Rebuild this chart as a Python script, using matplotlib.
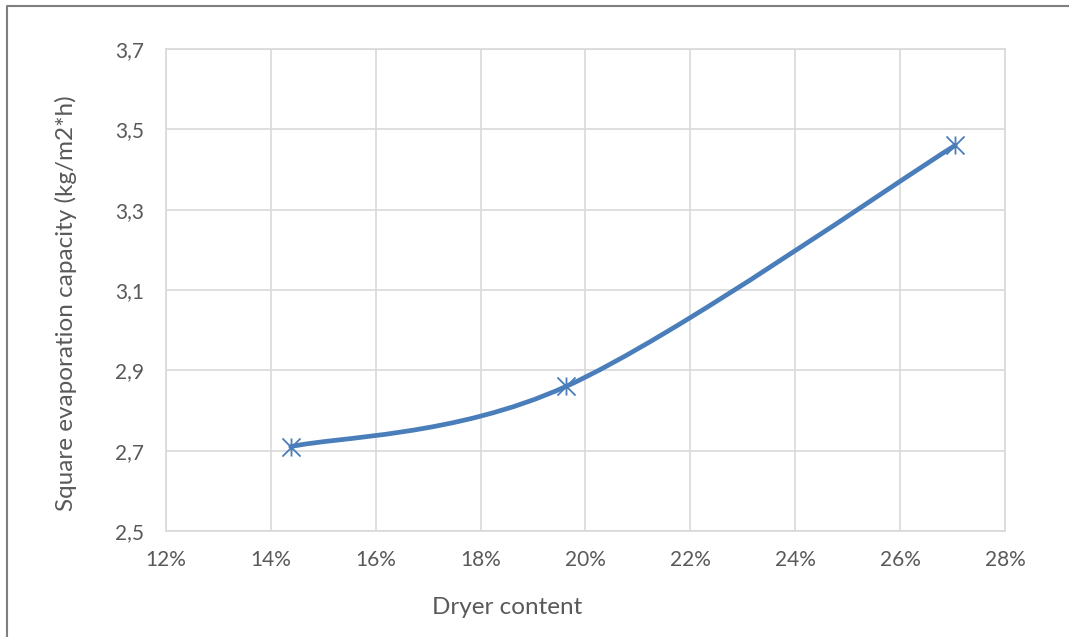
import matplotlib
matplotlib.use("Agg")
import matplotlib.pyplot as plt
from matplotlib.path import Path
from matplotlib.patches import PathPatch
from matplotlib.lines import Line2D
from matplotlib.ticker import FuncFormatter
import numpy as np

dryer_content = [0.1438, 0.1963, 0.2705]
evap_capacity = [2.71, 2.86, 3.46]

x_ticks = [0.12, 0.14, 0.16, 0.18, 0.20, 0.22, 0.24, 0.26, 0.28]
y_ticks = [2.5, 2.7, 2.9, 3.1, 3.3, 3.5, 3.7]

blue = "#4a7ebb"
grey_txt = "#595959"
grid_col = "#d9d9d9"

plt.rcParams['font.family'] = ['Lato', 'DejaVu Sans']

fig = plt.figure(figsize=(10.72, 6.37), dpi=100)
ax = fig.add_axes([166 / 1072, 1 - 531 / 637, (1005 - 166) / 1072, (531 - 49) / 637])

# smoothed line like a spreadsheet "smoothed line" series (Catmull-Rom bezier)
pts = np.column_stack([dryer_content, evap_capacity])
verts = [tuple(pts[0])]
codes = [Path.MOVETO]
for i in range(len(pts) - 1):
    p0 = pts[i - 1] if i > 0 else pts[i]
    p1 = pts[i]
    p2 = pts[i + 1]
    p3 = pts[i + 2] if i + 2 < len(pts) else pts[i + 1]
    c1 = p1 + (p2 - p0) / 6
    c2 = p2 - (p3 - p1) / 6
    verts += [tuple(c1), tuple(c2), tuple(p2)]
    codes += [Path.CURVE4] * 3
ax.add_patch(PathPatch(Path(verts, codes), fill=False, edgecolor=blue,
                       lw=3.4, capstyle='round', joinstyle='round', zorder=3))

# asterisk marker: vertical bar plus two diagonals
star = Path([(0, -1), (0, 1), (-1, -1), (1, 1), (-1, 1), (1, -1)],
            [Path.MOVETO, Path.LINETO] * 3)
ax.plot(dryer_content, evap_capacity, linestyle='none', marker=star,
        markersize=13, markeredgecolor=blue, markeredgewidth=1.3, zorder=4)

ax.set_xlim(0.12, 0.28)
ax.set_ylim(2.5, 3.7)
ax.set_xticks(x_ticks)
ax.set_yticks(y_ticks)
ax.xaxis.set_major_formatter(FuncFormatter(lambda v, p: f"{v * 100:.0f}%"))
ax.yaxis.set_major_formatter(FuncFormatter(lambda v, p: f"{v:.1f}".replace('.', ',')))
ax.grid(True, color=grid_col, lw=1.2)
ax.set_axisbelow(True)
for s in ax.spines.values():
    s.set_color(grid_col)
    s.set_linewidth(1.2)
ax.tick_params(length=0, labelsize=15, colors=grey_txt)
ax.tick_params(axis='x', pad=14)
ax.tick_params(axis='y', pad=16)

fig.text(507 / 1072, 1 - 607 / 637, "Dryer content", ha='center', va='center',
         fontsize=17.5, color=grey_txt)
fig.text(66 / 1072, 1 - 303 / 637, "Square evaporation capacity (kg/m2*h)",
         ha='center', va='center', rotation=90, fontsize=17.5, color=grey_txt)

# outer chart frame (top and left edges)
fig.add_artist(Line2D([7 / 1072, 7 / 1072, 1068 / 1072],
                      [0, 1 - 6 / 637, 1 - 6 / 637],
                      transform=fig.transFigure, color="#7f7f7f", lw=1.5))

fig.savefig("out.png", dpi=100)
